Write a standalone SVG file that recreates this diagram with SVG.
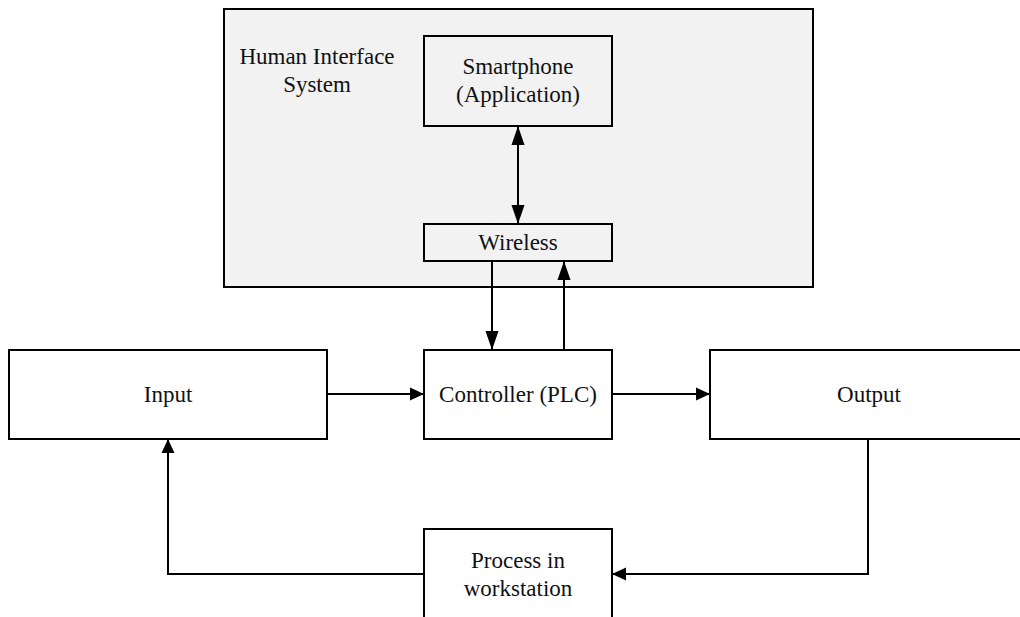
<svg xmlns="http://www.w3.org/2000/svg" width="1020" height="617" viewBox="0 0 1020 617">
<style>
.box{fill:#ffffff;stroke:#000;stroke-width:2}
.grey{fill:#f2f2f2;stroke:#000;stroke-width:2}
.t{font-family:"Liberation Serif","Times New Roman",serif;font-size:23px;fill:#111;text-anchor:middle}
.c{fill:none;stroke:#000;stroke-width:2}
</style>
<defs>
<marker id="ah" markerUnits="userSpaceOnUse" markerWidth="14" markerHeight="14" viewBox="0 0 14 14" refX="14" refY="7" orient="auto-start-reverse">
<path d="M0,0.5 L14,7 L0,13.5 Z" fill="#000"/>
</marker>
<marker id="ahl" markerUnits="userSpaceOnUse" markerWidth="19" markerHeight="14" viewBox="0 0 19 14" refX="19" refY="7" orient="auto-start-reverse">
<path d="M0,0.5 L19,7 L0,13.5 Z" fill="#000"/>
</marker>
</defs>
<g id="hmi-system">
<rect class="grey" x="224" y="9" width="589" height="278"/>
<text class="t" x="317" y="64">Human Interface</text>
<text class="t" x="317" y="92">System</text>
</g>
<g id="smartphone">
<rect class="grey" x="424" y="36" width="188" height="90"/>
<text class="t" x="518" y="74">Smartphone</text>
<text class="t" x="518" y="102">(Application)</text>
</g>
<g id="wireless">
<rect class="grey" x="424" y="224" width="188" height="37"/>
<text class="t" x="518" y="250">Wireless</text>
</g>
<g id="input">
<rect class="box" x="9" y="350" width="318" height="89"/>
<text class="t" x="168" y="402">Input</text>
</g>
<g id="controller">
<rect class="box" x="424" y="350" width="188" height="89"/>
<text class="t" x="518" y="402">Controller (PLC)</text>
</g>
<g id="output">
<rect class="box" x="710" y="350" width="330" height="89"/>
<text class="t" x="869" y="402">Output</text>
</g>
<g id="process">
<rect class="box" x="424" y="529" width="188" height="100"/>
<text class="t" x="518" y="568">Process in</text>
<text class="t" x="518" y="596">workstation</text>
</g>
<g id="connectors">
<line class="c" x1="518" y1="126" x2="518" y2="224" marker-start="url(#ahl)" marker-end="url(#ahl)"/>
<line class="c" x1="492" y1="261" x2="492" y2="350" marker-end="url(#ahl)"/>
<line class="c" x1="564" y1="350" x2="564" y2="261" marker-end="url(#ahl)"/>
<line class="c" x1="327" y1="394" x2="424" y2="394" marker-end="url(#ah)"/>
<line class="c" x1="612" y1="394" x2="710" y2="394" marker-end="url(#ah)"/>
<polyline class="c" points="868,439 868,574 612,574" marker-end="url(#ah)"/>
<polyline class="c" points="424,574 168,574 168,439" marker-end="url(#ah)"/>
</g>
</svg>
